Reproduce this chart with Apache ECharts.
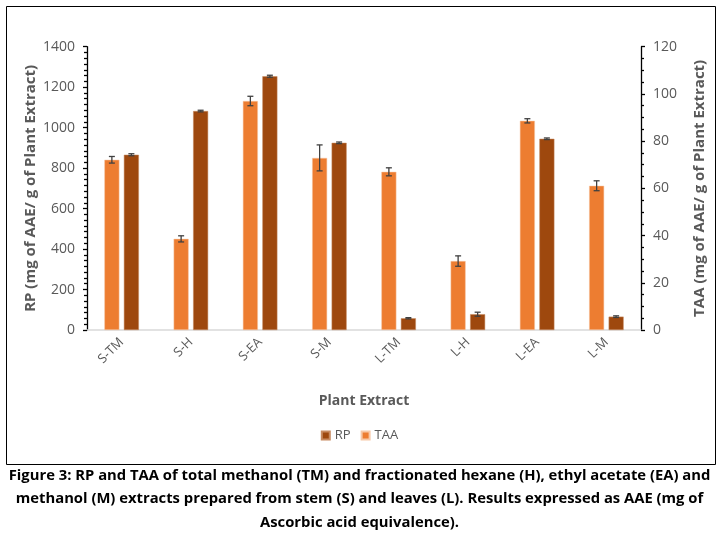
<!DOCTYPE html>
<html>
<head>
<meta charset="utf-8">
<script src="https://cdn.jsdelivr.net/npm/echarts@6/dist/echarts.min.js"></script>
<style>
html,body{margin:0;padding:0;background:#fff;}
#c{width:719px;height:555px;}
</style>
</head>
<body>
<div id="c"></div>
<script>
var categories = ['S-TM','S-H','S-EA','S-M','L-TM','L-H','L-EA','L-M'];
var rpValues = [866, 1082, 1254, 925, 58, 78, 945, 66];
var rpErr = [5, 4, 5, 4, 3, 10, 4, 4];
var taaValues = [72.1, 38.6, 97.0, 72.9, 67.0, 29.2, 88.6, 61.1];
var taaErr = [1.4, 1.3, 2.0, 5.5, 1.7, 2.2, 0.9, 2.1];
var captionLines = [
  'Figure 3: RP and TAA of total methanol (TM) and fractionated hexane (H), ethyl acetate (EA) and',
  'methanol (M) extracts prepared from stem (S) and leaves (L). Results expressed as AAE (mg of',
  'Ascorbic acid equivalence).'
];

var FONT = "'Open Sans', sans-serif";
var GREY = '#595959';
var BAR_W = 15, GAP = 4.5;

function errSeries(values, errs, yIdx, offset) {
  return {
    type: 'custom',
    yAxisIndex: yIdx,
    silent: true,
    z: 10,
    data: values.map(function (v, i) { return [i, v - errs[i], v + errs[i]]; }),
    renderItem: function (params, api) {
      var i = api.value(0);
      var lo = api.coord([i, api.value(1)]);
      var hi = api.coord([i, api.value(2)]);
      var x = lo[0] + offset;
      var cap = 3;
      var st = { stroke: '#404040', lineWidth: 1.3 };
      return {
        type: 'group',
        children: [
          { type: 'line', shape: { x1: x, y1: lo[1], x2: x, y2: hi[1] }, style: st },
          { type: 'line', shape: { x1: x - cap, y1: lo[1], x2: x + cap, y2: lo[1] }, style: st },
          { type: 'line', shape: { x1: x - cap, y1: hi[1], x2: x + cap, y2: hi[1] }, style: st }
        ]
      };
    }
  };
}

var chart = echarts.init(document.getElementById('c'));
var graphics = [
  { type: 'rect', shape: { x: 6.5, y: 6.5, width: 709, height: 458 }, style: { fill: 'none', stroke: '#000', lineWidth: 1 }, silent: true }
];
captionLines.forEach(function (t, i) {
  graphics.push({
    type: 'text', left: 'center', top: 468 + i * 23.7,
    style: { text: t, font: 'bold 14.8px ' + FONT, fill: '#000' }
  });
});

chart.setOption({
  animation: false,
  textStyle: { fontFamily: FONT },
  graphic: graphics,
  legend: {
    data: ['RP', 'TAA'],
    left: 'center', top: 424,
    itemWidth: 8, itemHeight: 8, itemGap: 10,
    icon: 'rect',
    textStyle: { color: GREY, fontSize: 13, fontFamily: FONT }
  },
  grid: { left: 87, right: 78, top: 46.7, bottom: 225 },
  xAxis: {
    type: 'category',
    data: categories,
    name: 'Plant Extract',
    nameLocation: 'middle',
    nameGap: 64,
    nameTextStyle: { color: GREY, fontSize: 14, fontWeight: 'bold', fontFamily: FONT },
    axisLine: { lineStyle: { color: '#d9d9d9', width: 1.5 } },
    axisTick: { show: false },
    axisLabel: { rotate: 45, color: GREY, fontSize: 13, margin: 10, fontFamily: FONT }
  },
  yAxis: [
    {
      type: 'value', min: 0, max: 1400, interval: 200,
      name: 'RP (mg of AAE/ g of Plant Extract)',
      nameLocation: 'middle', nameGap: 49, nameMoveOverlap: false,
      nameTextStyle: { color: GREY, fontSize: 15, fontWeight: 'bold', fontFamily: FONT },
      axisLine: { show: true, lineStyle: { color: '#000', width: 1.3 } },
      axisTick: { show: true, length: 4, lineStyle: { color: '#000', width: 1.3 } },
      minorTick: { show: true, splitNumber: 7, length: 3, lineStyle: { color: '#000', width: 1.3 } },
      splitLine: { show: false },
      axisLabel: { color: GREY, fontSize: 14, margin: 12, fontFamily: FONT, formatter: function (v) { return String(v); } }
    },
    {
      type: 'value', min: 0, max: 120, interval: 20,
      name: 'TAA (mg of AAE/ g of Plant Extract)',
      nameLocation: 'middle', nameGap: 51, nameRotate: 90,
      nameTextStyle: { color: GREY, fontSize: 15, fontWeight: 'bold', fontFamily: FONT },
      axisLine: { show: true, lineStyle: { color: '#000', width: 1.3 } },
      axisTick: { show: true, length: 4, lineStyle: { color: '#000', width: 1.3 } },
      minorTick: { show: true, splitNumber: 4, length: 3, lineStyle: { color: '#000', width: 1.3 } },
      splitLine: { show: false },
      axisLabel: { color: GREY, fontSize: 14, margin: 12, fontFamily: FONT }
    }
  ],
  series: [
    {
      name: 'TAA', type: 'bar', yAxisIndex: 1, data: taaValues,
      barWidth: BAR_W, barGap: '30%',
      itemStyle: { color: '#ED7D31', borderColor: '#f7c9a8', borderWidth: 0.5 }
    },
    {
      name: 'RP', type: 'bar', yAxisIndex: 0, data: rpValues,
      barWidth: BAR_W, barGap: '30%',
      itemStyle: { color: '#9E480E', borderColor: '#c78a60', borderWidth: 0.5 }
    },
    errSeries(taaValues, taaErr, 1, -(BAR_W + GAP) / 2),
    errSeries(rpValues, rpErr, 0, (BAR_W + GAP) / 2)
  ]
});
</script>
</body>
</html>
